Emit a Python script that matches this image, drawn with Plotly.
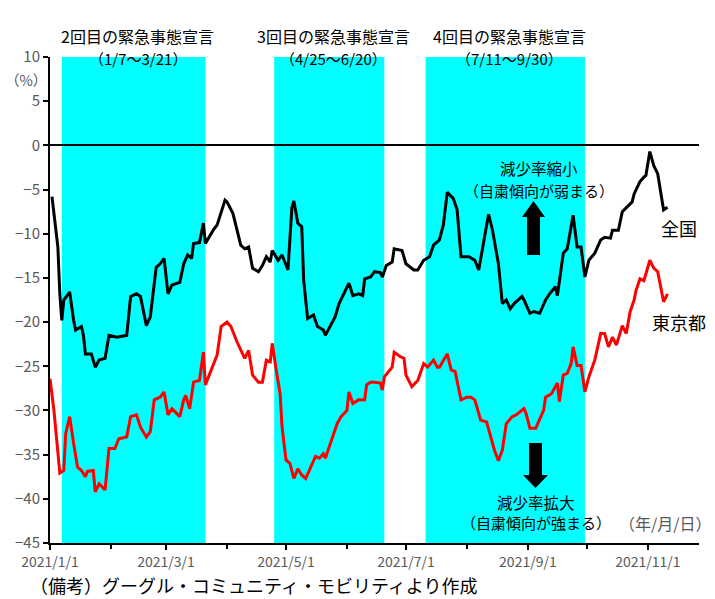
import pandas as pd
import plotly.graph_objects as go

# ---------------- data ----------------
BASE_DATE = "2021-01-01"

# 全国: day offset from 2021-01-01, value (%)
national_day = [1, 3, 4, 5, 6, 7, 10, 12, 13, 16, 17, 18, 21, 23, 25, 28, 30, 34, 39, 41,
                44, 46, 49, 51, 54, 56, 58, 60, 62, 66, 68, 70, 72, 73, 76, 78, 79, 83, 85, 89,
                90, 93, 97, 99, 101, 103, 106, 108, 110, 112, 113, 116, 118, 121, 123, 124, 126, 128, 129, 131,
                134, 136, 139, 140, 142, 145, 147, 150, 152, 154, 157, 159, 160, 163, 165, 168, 169, 171, 174, 175,
                179, 181, 185, 187, 190, 193, 195, 198, 200, 202, 205, 207, 209, 213, 216, 218, 221, 223, 225, 228,
                230, 232, 234, 236, 240, 241, 244, 246, 249, 252, 254, 257, 258, 261, 263, 265, 266, 268, 270, 272,
                274, 277, 280, 282, 285, 286, 289, 291, 294, 296, 297, 300, 302, 303, 305, 307, 309, 312, 314]
national_val = [-5.8, -10.0, -11.5, -16.8, -19.8, -17.5, -16.6, -19.8, -20.9, -20.5, -21.5, -23.6, -23.6, -25.1, -24.3, -24.1, -21.5, -21.7, -21.5, -17.1,
                -16.8, -17.1, -20.4, -19.4, -13.8, -13.4, -12.8, -16.8, -15.8, -15.5, -13.4, -12.4, -12.8, -11.1, -11.0, -8.8, -11.1, -9.6, -9.0, -6.2,
                -6.4, -7.7, -11.3, -11.7, -11.5, -13.9, -14.3, -13.6, -12.6, -13.2, -11.9, -13.0, -12.4, -14.1, -7.0, -6.3, -8.8, -9.2, -15.3, -19.6,
                -19.2, -20.5, -20.9, -21.5, -20.7, -19.4, -17.9, -16.6, -15.6, -17.0, -16.8, -17.0, -15.1, -14.9, -14.3, -14.4, -14.9, -13.6, -13.2, -11.7,
                -11.9, -13.4, -14.1, -14.1, -13.0, -12.6, -11.3, -10.7, -9.0, -5.3, -6.0, -7.3, -12.6, -12.6, -13.0, -14.1, -10.2, -7.8, -9.6, -13.4,
                -17.9, -17.5, -18.5, -17.9, -17.1, -17.5, -19.0, -18.8, -19.0, -17.5, -16.8, -16.0, -17.0, -12.2, -11.7, -9.0, -7.9, -11.5, -11.5, -14.9,
                -13.0, -12.2, -10.7, -10.4, -10.5, -9.6, -9.6, -7.5, -6.8, -6.4, -5.5, -4.1, -3.6, -3.4, -0.7, -2.3, -3.2, -7.3, -7.0]

# 東京都
tokyo_day = [0, 2, 5, 7, 8, 10, 12, 14, 16, 18, 19, 22, 23, 25, 28, 30, 33, 35, 39, 41,
             44, 46, 49, 51, 53, 56, 58, 60, 62, 66, 68, 69, 71, 73, 76, 78, 79, 82, 85, 87,
             90, 92, 95, 99, 101, 103, 106, 108, 110, 112, 113, 115, 117, 118, 120, 122, 124, 126, 128, 130,
             133, 135, 137, 139, 140, 142, 145, 146, 148, 151, 152, 154, 157, 160, 161, 163, 165, 168, 169, 170,
             174, 175, 178, 180, 181, 184, 187, 190, 192, 195, 197, 198, 202, 204, 206, 209, 212, 214, 216, 219,
             222, 225, 226, 228, 230, 232, 235, 237, 241, 242, 244, 247, 248, 251, 252, 255, 258, 259, 261, 263,
             265, 266, 268, 270, 272, 274, 277, 280, 282, 284, 286, 288, 291, 293, 295, 297, 298, 300, 302, 305,
             307, 309, 312, 314]
tokyo_val = [-26.4, -30.0, -37.1, -36.8, -32.6, -30.7, -33.7, -36.4, -36.8, -37.5, -36.9, -36.8, -39.2, -38.3, -39.0, -34.3, -34.3, -33.2, -33.0, -30.7,
             -30.5, -31.9, -33.0, -32.4, -28.8, -28.5, -27.9, -30.5, -29.8, -30.7, -28.8, -28.3, -29.8, -26.8, -26.6, -23.4, -27.1, -25.4, -23.7, -20.5,
             -20.0, -20.5, -22.2, -24.1, -23.2, -26.0, -26.8, -26.8, -24.3, -24.5, -22.4, -25.4, -28.1, -31.9, -35.6, -36.0, -37.7, -36.6, -37.3, -37.7,
             -36.2, -35.2, -35.4, -34.9, -35.4, -34.1, -32.4, -31.5, -30.7, -30.0, -27.9, -29.2, -28.8, -28.8, -27.1, -26.8, -26.8, -26.9, -27.7, -26.2,
             -25.1, -23.4, -23.9, -24.1, -26.0, -27.3, -26.6, -24.7, -25.1, -24.3, -25.1, -25.1, -23.6, -25.4, -25.6, -28.8, -28.5, -28.5, -28.8, -31.1,
             -31.3, -33.6, -34.5, -35.7, -34.5, -31.5, -30.7, -30.5, -29.8, -30.3, -32.0, -32.0, -31.5, -30.0, -28.5, -28.1, -26.9, -29.0, -26.0, -25.8,
             -24.7, -22.8, -24.9, -24.9, -27.9, -26.2, -24.3, -21.3, -21.3, -22.8, -21.7, -22.6, -20.4, -21.3, -18.8, -17.5, -16.4, -15.1, -15.3, -13.0,
             -13.9, -14.3, -17.7, -16.8]

# 緊急事態宣言 periods
band_start = ["2021-01-07", "2021-04-25", "2021-07-11"]
band_end = ["2021-03-21", "2021-06-20", "2021-09-30"]
band_title = ["2回目の緊急事態宣言", "3回目の緊急事態宣言", "4回目の緊急事態宣言"]
band_period = ["（1/7～3/21）", "（4/25～6/20）", "（7/11～9/30）"]

y_ticks = [10, 5, 0, -5, -10, -15, -20, -25, -30, -35, -40, -45]
x_range = ["2021-01-01", "2021-11-27"]

# ---------------- figure ----------------
W, H = 715, 599
ML, MR, MT, MB = 50, 16, 57, 56
PW, PH = W - ML - MR, H - MT - MB


def px(x, y):
    """pixel -> paper coordinates"""
    return (x - ML) / PW, (H - MB - y) / PH


base = pd.Timestamp(BASE_DATE)
nat_x = [base + pd.Timedelta(days=d) for d in national_day]
tok_x = [base + pd.Timedelta(days=d) for d in tokyo_day]

FONT = "Noto Sans CJK JP"
GRAY = "#595959"
DARK = "#000000"

fig = go.Figure()
fig.add_trace(go.Scatter(x=nat_x, y=national_val, mode="lines", name="全国",
                         line=dict(color="black", width=3)))
fig.add_trace(go.Scatter(x=tok_x, y=tokyo_val, mode="lines", name="東京都",
                         line=dict(color="#FF0000", width=3)))

shapes = []
annotations = []
for s, e, t, p in zip(band_start, band_end, band_title, band_period):
    shapes.append(dict(type="rect", xref="x", yref="paper", x0=s, x1=e, y0=0, y1=1,
                       fillcolor="#00FFFF", line=dict(width=0), layer="below"))
    mid = pd.Timestamp(s) + (pd.Timestamp(e) - pd.Timestamp(s)) / 2
    annotations.append(dict(x=mid, y=px(0, 22)[1], xref="x", yref="paper", text=t,
                            showarrow=False, xshift=4, font=dict(size=16, color=DARK, family=FONT)))
    annotations.append(dict(x=mid, y=px(0, 46)[1], xref="x", yref="paper", text=p,
                            showarrow=False, xshift=4, font=dict(size=15, color=DARK, family=FONT)))


def arrow_path(cx, y_tail, y_base, y_tip, shaft_hw, head_hw):
    pts = [(cx - shaft_hw, y_tail), (cx - shaft_hw, y_base), (cx - head_hw, y_base), (cx, y_tip),
           (cx + head_hw, y_base), (cx + shaft_hw, y_base), (cx + shaft_hw, y_tail)]
    pp = [px(a, b) for a, b in pts]
    return "M " + " L ".join(f"{a:.4f},{b:.4f}" for a, b in pp) + " Z"


shapes.append(dict(type="path", xref="paper", yref="paper",
                   path=arrow_path(533.5, 255, 217, 201, 6.5, 11.5),
                   fillcolor="black", line=dict(width=0)))
shapes.append(dict(type="path", xref="paper", yref="paper",
                   path=arrow_path(535.5, 443, 475, 488, 6.5, 12.5),
                   fillcolor="black", line=dict(width=0)))


def add_text(text, x, y, size, color=DARK, xanchor="center"):
    ax, ay = px(x, y)
    annotations.append(dict(x=ax, y=ay, xref="paper", yref="paper", text=text, showarrow=False,
                            xanchor=xanchor, yanchor="middle",
                            font=dict(size=size, color=color, family=FONT)))


add_text("全国", 679, 228, 18)
add_text("東京都", 679, 322, 18)
add_text("減少率縮小", 539, 168, 15.5)
add_text("（自粛傾向が弱まる）", 539, 190, 15)
add_text("減少率拡大", 536, 502, 15.5)
add_text("（自粛傾向が強まる）", 536, 522, 15)
add_text("（年/月/日）", 665, 523, 16, GRAY)
add_text("（%）", 26, 79, 14.5, GRAY)
add_text("（備考）グーグル・コミュニティ・モビリティより作成", 28, 585, 18, DARK, xanchor="left")

fig.update_layout(
    width=W, height=H,
    margin=dict(l=ML, r=MR, t=MT, b=MB, autoexpand=False),
    paper_bgcolor="white", plot_bgcolor="white",
    showlegend=False,
    shapes=shapes, annotations=annotations,
    font=dict(family=FONT),
    xaxis=dict(type="date", range=x_range, tick0="2021-01-01", dtick="M2",
               tickformat="%Y/%-m/%-d", ticks="outside", ticklen=5, tickwidth=1.5,
               tickcolor="black", showline=True, linecolor="black", linewidth=2,
               showgrid=False, zeroline=False,
               tickfont=dict(size=14, color=GRAY, family=FONT),
               minor=dict(dtick="M1", tick0="2021-01-01", ticks="outside", ticklen=4,
                          tickwidth=1.5, tickcolor="black", showgrid=False)),
    yaxis=dict(range=[-45, 10], tickvals=y_ticks, ticks="outside", ticklen=5, tickwidth=1.5,
               tickcolor="black", showline=True, linecolor="black", linewidth=2,
               showgrid=False, zeroline=True, zerolinecolor="black", zerolinewidth=2,
               tickfont=dict(size=15, color=GRAY, family=FONT)),
)

fig.write_html("out.html")
